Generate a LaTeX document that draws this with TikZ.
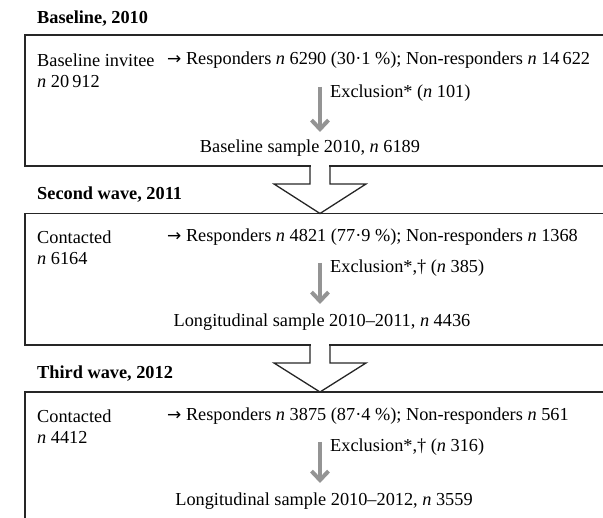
\documentclass[tikz,border=0pt]{standalone}
\usepackage{fontspec}
\setmainfont{Liberation Serif}
\newfontfamily\arrowfont{DejaVu Sans}
\usetikzlibrary{arrows.meta}
\newcommand{\rarr}{{\arrowfont\fontsize{17}{20}\selectfont →}}
\begin{document}
\begin{tikzpicture}[x=1pt,y=-1pt,
  txt/.style={anchor=west,inner sep=0pt,font=\fontsize{18.3}{21}\selectfont},
  ttl/.style={anchor=west,inner sep=0pt,font=\fontsize{18.3}{21}\selectfont\bfseries},
  ctr/.style={anchor=center,inner sep=0pt,font=\fontsize{18.3}{21}\selectfont},
  frame/.style={draw=black!85,line width=1.3pt},
  excl/.style={draw=black!42,line width=4pt,-{Straight Barb[length=9pt,width=17pt]}},
  bigarrow/.style={draw=black!85,line width=1.3pt,line join=miter}]
\useasboundingbox (0,0) rectangle (603,518);
\clip (0,0) rectangle (603,518);
% boxes
\draw[frame] (25,35) rectangle (640,166);
\draw[frame] (25,213.5) rectangle (640,345);
\draw[frame] (25,392) rectangle (640,560);
% big arrows
\fill[white] (310.7,160) rectangle (329.3,184);
\draw[bigarrow] (310,166) -- (310,184) -- (274,184) -- (320,213.5) -- (366,184) -- (330,184) -- (330,166);
\fill[white] (310.7,340) rectangle (329.3,363);
\draw[bigarrow] (310,345) -- (310,363) -- (274,363) -- (320,392) -- (366,363) -- (330,363) -- (330,345);
% Baseline
\node[ttl] (t1) at (37,19) {Baseline, 2010};
\node[txt] (b1a) at (37,60) {Baseline invitee};
\node[txt] (b1r) at (167,60) {\rarr\ Responders \textit{n} 6290 (30·1 \%); Non-responders \textit{n} 14\,622};
\node[txt] (b1n) at (37,82) {\textit{n} 20\,912};
\coordinate (a1s) at (320,87);
\coordinate (a1e) at (320,132);
\draw[excl] (a1s) -- (a1e);
\node[txt] (e1) at (330,93) {Exclusion* (\textit{n} 101)};
\node[ctr] (s1) at (310,148) {Baseline sample 2010, \textit{n} 6189};
% Second wave
\node[ttl] (t2) at (37,195) {Second wave, 2011};
\node[txt] (b2a) at (37,237) {Contacted};
\node[txt] (b2r) at (167,237) {\rarr\ Responders \textit{n} 4821 (77·9 \%); Non-responders \textit{n} 1368};
\node[txt] (b2n) at (37,259) {\textit{n} 6164};
\coordinate (a2s) at (320,263);
\coordinate (a2e) at (320,304);
\draw[excl] (a2s) -- (a2e);
\node[txt] (e2) at (330,268) {Exclusion*,† (\textit{n} 385)};
\node[ctr] (s2) at (322,322) {Longitudinal sample 2010–2011, \textit{n} 4436};
% Third wave
\node[ttl] (t3) at (37,374) {Third wave, 2012};
\node[txt] (b3a) at (37,416) {Contacted};
\node[txt] (b3r) at (167,416) {\rarr\ Responders \textit{n} 3875 (87·4 \%); Non-responders \textit{n} 561};
\node[txt] (b3n) at (37,437) {\textit{n} 4412};
\coordinate (a3s) at (320,442);
\coordinate (a3e) at (320,483);
\draw[excl] (a3s) -- (a3e);
\node[txt] (e3) at (330,447) {Exclusion*,† (\textit{n} 316)};
\node[ctr] (s3) at (324,501) {Longitudinal sample 2010–2012, \textit{n} 3559};
\end{tikzpicture}
\end{document}
